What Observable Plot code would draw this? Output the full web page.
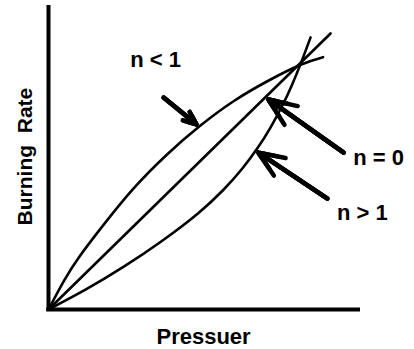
<!DOCTYPE html>
<html>
<head>
<meta charset="utf-8">
<script src="https://cdn.jsdelivr.net/npm/d3@7"></script>
<script src="https://cdn.jsdelivr.net/npm/@observablehq/plot@0.6"></script>
<style>
  html, body { margin: 0; padding: 0; background: #fff; }
</style>
</head>
<body>
<div id="chart"></div>
<script>
// Curve readings (pressure, burning rate) on a 0–100 relative scale
const concaveP = [0, 5, 10, 17, 27, 38, 48.7, 59.3, 70, 80.8, 88];
const concaveR = [0, 9.5, 17.5, 27, 39.5, 51, 60.5, 68.5, 75, 80.5, 83];
const linearP = [0, 90.4];
const linearR = [0, 90.8];
const convexP = [0, 12, 24, 36, 48, 56, 62, 67, 71, 75, 78, 81, 84];
const convexR = [0, 6.6, 14, 22.3, 31.7, 39.3, 46.2, 53.1, 59.6, 67.2, 73.8, 81.3, 89.5];

// Annotation labels
const labelText = ["n < 1", "n = 0", "n > 1"];
const labelP = [34.3, 105.8, 100.6];
const labelR = [82.2, 50.0, 31.9];

// Arrows (tail -> tip)
const arrowP1 = [36.9, 94.6, 89.4];
const arrowR1 = [69.7, 51.6, 36.5];
const arrowP2 = [47.4, 70.5, 67.3];
const arrowR2 = [60.9, 69.1, 51.6];

const xLabel = "Pressuer";
const yLabel = "Burning  Rate";

const toPts = (P, R) => P.map((p, i) => ({p, r: R[i]}));
const labels = labelText.map((t, i) => ({t, p: labelP[i], r: labelR[i]}));
const arrows = arrowP1.map((p1, i) => ({p1, r1: arrowR1[i], p2: arrowP2[i], r2: arrowR2[i]}));

const font = "'Liberation Sans', Arial, Helvetica, sans-serif";
const arrowOpts = (len) => ({x1: "p1", y1: "r1", x2: "p2", y2: "r2", stroke: "#000", strokeWidth: 4.5, headLength: len, headAngle: 45});

const chart = Plot.plot({
  width: 414,
  height: 349,
  marginLeft: 48,
  marginRight: 54,
  marginTop: 5,
  marginBottom: 40,
  style: {background: "#fff", fontFamily: font, overflow: "visible"},
  x: {domain: [0, 100], axis: null},
  y: {domain: [0, 100], axis: null},
  marks: [
    Plot.line(toPts(concaveP, concaveR), {x: "p", y: "r", curve: "natural", stroke: "#000", strokeWidth: 2.6}),
    Plot.line(toPts(linearP, linearR), {x: "p", y: "r", stroke: "#000", strokeWidth: 2.6}),
    Plot.line(toPts(convexP, convexR), {x: "p", y: "r", curve: "natural", stroke: "#000", strokeWidth: 2.6}),
    Plot.arrow(arrows, arrowOpts(10)),
    Plot.arrow(arrows, arrowOpts(6.5)),
    Plot.arrow(arrows, arrowOpts(3)),
    Plot.ruleX([0], {stroke: "#000", strokeWidth: 4}),
    Plot.ruleY([0], {stroke: "#000", strokeWidth: 4, x1: -0.6, x2: 100}),
    Plot.text(labels, {x: "p", y: "r", text: "t", fontSize: 22, fontWeight: "bold", fill: "#000", textAnchor: "middle", lineAnchor: "middle"}),
    Plot.text([xLabel], {x: 49.7, frameAnchor: "bottom", dy: 27, text: d => d, fontSize: 22, fontWeight: "bold", fill: "#000", textAnchor: "middle", lineAnchor: "middle"}),
    Plot.text([yLabel], {y: 50.3, frameAnchor: "left", dx: -23.5, rotate: -90, text: d => d, fontSize: 21, fontWeight: "bold", fill: "#000", textAnchor: "middle", lineAnchor: "middle"})
  ]
});
document.getElementById("chart").appendChild(chart);
</script>
</body>
</html>
